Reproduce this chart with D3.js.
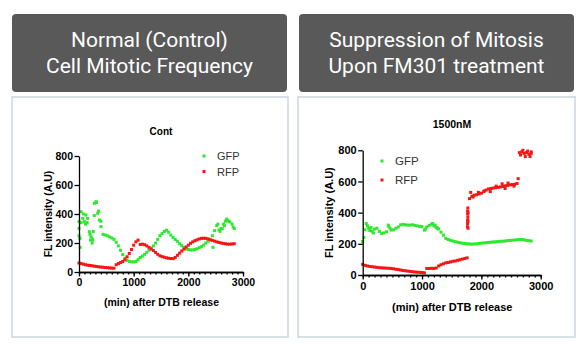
<!DOCTYPE html>
<html>
<head>
<meta charset="utf-8">
<script src="https://cdn.jsdelivr.net/npm/d3@7"></script>
<style>
  body { margin: 0; background: #fff; }
  svg { display: block; }
</style>
</head>
<body>
<svg id="fig" width="587" height="350"></svg>
<script>
// sample times (min after DTB release)
const minutes = [0,40,80,120,160,200,240,280,320,360,
  400,440,480,520,560,600,640,680,720,760,
  800,840,880,920,960,1000,1040,1080,1120,1160,
  1200,1240,1280,1320,1360,1400,1440,1480,1520,1560,
  1600,1640,1680,1720,1760,1800,1840,1880,1920,1960,
  2000,2040,2080,2120,2160,2200,2240,2280,2320,2360,
  2400,2440,2480,2520,2560,2600,2640,2680,2720,2760,
  2800,2840];

// Cont
const ctrlGfp = [250,340,400,330,370,260,230,390,480,420,
  350,260,255,250,242,235,225,205,180,150,
  120,95,80,72,70,70,72,85,100,110,
  122,135,150,165,180,200,225,250,265,280,
  288,275,255,238,225,212,195,182,170,160,
  155,152,152,155,160,168,175,185,200,212,
  225,250,285,320,290,300,330,350,355,345,
  330,300];
const ctrlRfp = [62,58,54,50,47,45,43,40,38,36,
  34,33,31,30,28,27,26,50,58,65,
  72,85,105,128,155,185,208,220,190,192,
  188,180,170,158,148,135,122,112,106,102,
  98,95,93,92,100,115,130,145,158,172,
  185,198,208,216,222,228,232,233,232,228,
  222,218,213,208,204,200,197,195,192,192,
  194,195];
// scattered extra readings [min, value]
const ctrlGfpExtra = [[0,347],[0,301],[18,232],[20,170],[37,416],[67,370],[98,347],[128,393],
  [150,340],[189,278],[210,220],[220,244],[240,200],[250,221],[260,280],[281,474],[311,485],
  [342,405],[372,359],[402,313],[2450,170],[2540,330],[2580,280],[2620,300],[2660,320],
  [2700,365],[2740,350],[2820,310]];

// 1500nM
const drugGfp = [215,290,315,285,280,295,300,280,266,270,
  277,310,288,290,300,308,322,325,322,320,
  320,322,318,315,312,310,288,308,318,326,
  315,305,295,275,256,235,228,222,218,214,
  210,207,204,202,200,199,198,199,200,202,
  204,206,207,209,210,212,213,215,216,217,
  218,220,222,223,224,226,228,228,226,222,
  220,218];
const drugRfp = [68,62,58,55,53,51,49,47,46,45,
  44,43,42,40,37,35,32,29,27,25,
  23,21,19,18,17,16,14,42,42,43,
  42,45,58,66,72,78,80,84,88,90,
  94,98,102,106,110,490,505,512,515,520,
  525,535,545,552,555,558,560,562,565,568,
  572,575,578,580,582,587,785,790,780,785,
  775,780];
const drugGfpExtra = [[20,240],[60,330],[100,300],[140,305],[180,270],[430,320],[460,300],
  [1060,295],[1180,330],[1220,320],[1260,300]];
const drugRfpExtra = [[1765,310],[1768,330],[1770,350],[1772,370],[1770,390],[1768,410],
  [1772,430],[1775,300],[1774,345],[1776,400],[1820,530],[1860,500],[1950,530],[2050,540],
  [2150,535],[2250,570],[2350,585],[2400,555],[2450,590],[2550,570],[2620,618],[2660,770],
  [2700,800],[2740,760],[2780,795],[2820,760],[2840,790]];

const xTicks = [0, 1000, 2000, 3000];
const yTicks = [0, 200, 400, 600, 800];
const green = '#2ee82e';
const red = '#fa1414';

const svg = d3.select('#fig');

// header boxes
const headers = [
  {x: 12, w: 275, lines: ['Normal (Control)', 'Cell Mitotic Frequency']},
  {x: 299, w: 275, lines: ['Suppression of Mitosis', 'Upon FM301 treatment']}
];
headers.forEach(h => {
  svg.append('rect').attr('x', h.x).attr('y', 14).attr('width', h.w).attr('height', 78)
    .attr('rx', 4).attr('fill', '#595959');
  h.lines.forEach((t, i) => {
    svg.append('text').attr('x', h.x + h.w / 2).attr('y', 46.5 + i * 26.5)
      .attr('text-anchor', 'middle').attr('fill', '#fff')
      .style('font-family', 'Roboto, "Liberation Sans", sans-serif').style('font-size', '21px')
      .text(t);
  });
});

// panel borders
svg.append('rect').attr('x', 12).attr('y', 97).attr('width', 276).attr('height', 240)
  .attr('fill', '#fff').attr('stroke', '#cfd8e2').attr('stroke-width', 1.6);
svg.append('rect').attr('x', 298).attr('y', 97).attr('width', 277).attr('height', 240)
  .attr('fill', '#fff').attr('stroke', '#cfd8e2').attr('stroke-width', 1.6);

function drawChart(c) {
  const x = d3.scaleLinear().domain([0, 3000]).range([c.left, c.right]);
  const y = d3.scaleLinear().domain([0, 800]).range([c.bottom, c.top]);
  const g = svg.append('g').style('font-family', '"Liberation Sans", Arial, sans-serif');
  const ms = 3;

  const series = [
    {pts: minutes.map((m, i) => [m, c.gfp[i]]).concat(c.gfpExtra), color: green},
    {pts: minutes.map((m, i) => [m, c.rfp[i]]).concat(c.rfpExtra), color: red}
  ];
  series.forEach(s => {
    g.append('g').selectAll('rect')
      .data(s.pts)
      .join('rect')
      .attr('x', d => x(d[0]) - ms / 2)
      .attr('y', d => y(d[1]) - ms / 2)
      .attr('width', ms)
      .attr('height', ms)
      .attr('fill', s.color);
  });

  // minor x ticks
  g.append('g').attr('transform', `translate(0,${c.bottom})`)
    .call(d3.axisBottom(x).tickValues(d3.range(0, 3001, 100)).tickSize(2.5).tickFormat('').tickSizeOuter(0));
  const xa = g.append('g').attr('transform', `translate(0,${c.bottom})`)
    .call(d3.axisBottom(x).tickValues(xTicks).tickSize(4.5).tickPadding(2.5)
      .tickFormat(d3.format('d')).tickSizeOuter(0));
  const ya = g.append('g').attr('transform', `translate(${c.left},0)`)
    .call(d3.axisLeft(y).tickValues(yTicks).tickSize(4.5).tickPadding(1.5)
      .tickFormat(d3.format('d')).tickSizeOuter(0));
  g.selectAll('.domain, .tick line').attr('stroke', '#000').attr('stroke-width', 1.3);
  [xa, ya].forEach(a => a.selectAll('text')
    .attr('fill', '#000').style('font-size', c.fs + 'px').style('font-weight', 'bold')
    .style('font-family', '"Liberation Sans", Arial, sans-serif'));

  g.append('text').attr('x', c.titleX).attr('y', c.titleY).attr('text-anchor', 'middle')
    .style('font-size', c.fs - 0.5 + 'px').style('font-weight', 'bold').text(c.title);
  g.append('text').attr('x', (c.left + c.right) / 2 + 0.5).attr('y', c.xLabelY)
    .attr('text-anchor', 'middle').style('font-size', c.fs + 'px').style('font-weight', 'bold')
    .text('(min) after DTB release');
  g.append('text').attr('transform', `translate(${c.yLabelX},${(c.top + c.bottom) / 2}) rotate(-90)`)
    .attr('text-anchor', 'middle').style('font-size', c.fs + 'px').style('font-weight', 'bold')
    .text('FL intensity (A.U)');

  // legend
  [['GFP', green], ['RFP', red]].forEach((l, i) => {
    const ly = c.legY + i * c.legGap;
    g.append('rect').attr('x', c.legX - 1.5).attr('y', ly - 1.5).attr('width', 3).attr('height', 3)
      .attr('fill', l[1]);
    g.append('text').attr('x', c.legX + 13).attr('y', ly + 4)
      .style('font-size', c.fs + 0.5 + 'px').attr('fill', '#333').text(l[0]);
  });
}

drawChart({
  left: 79, right: 243, top: 156, bottom: 272, fs: 10.5,
  gfp: ctrlGfp, rfp: ctrlRfp, gfpExtra: ctrlGfpExtra, rfpExtra: [],
  title: 'Cont', titleX: 161, titleY: 134.5,
  xLabelY: 305.5, yLabelX: 51.5,
  legX: 204, legY: 156, legGap: 15.5
});

drawChart({
  left: 362.7, right: 540.7, top: 150.3, bottom: 275, fs: 11,
  gfp: drugGfp, rfp: drugRfp, gfpExtra: drugGfpExtra, rfpExtra: drugRfpExtra,
  title: '1500nM', titleX: 452, titleY: 127.5,
  xLabelY: 311, yLabelX: 333,
  legX: 382, legY: 161, legGap: 19
});
</script>
</body>
</html>
